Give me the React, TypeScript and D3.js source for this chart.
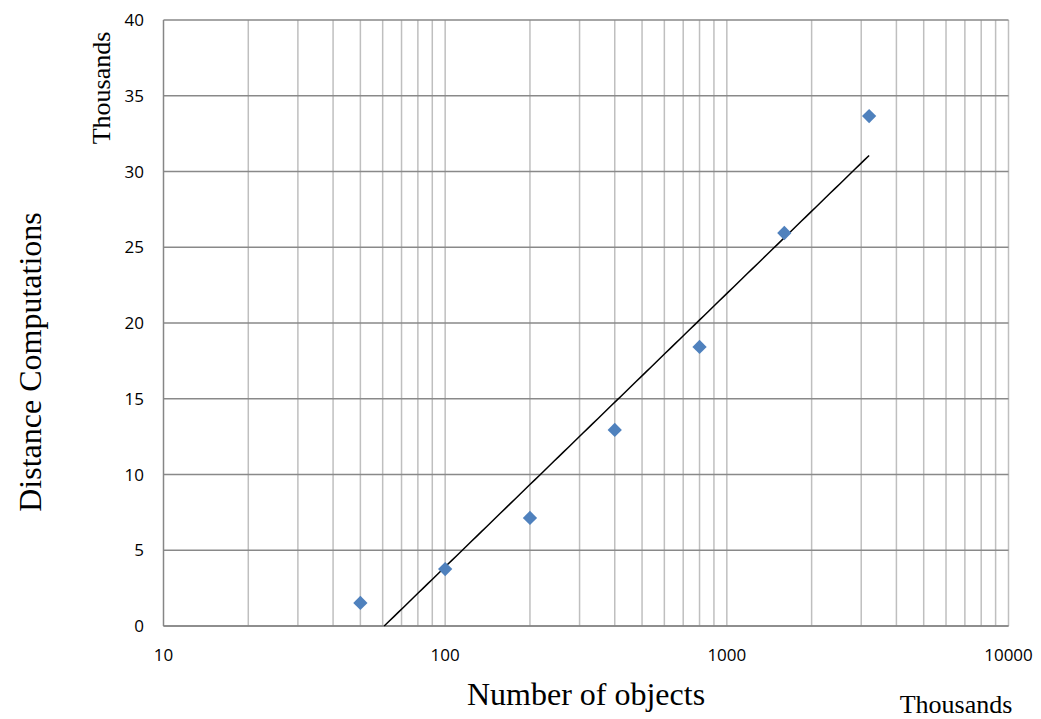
import React from "react";
import * as d3 from "d3";

const objectsK = [50, 100, 200, 400, 800, 1600, 3200];
const distanceK = [1.52, 3.76, 7.13, 12.94, 18.42, 25.94, 33.66];
const yTicks = [0, 5, 10, 15, 20, 25, 30, 35, 40];
const xTicks = [10, 100, 1000, 10000];

const W = 1041, H = 719;
const left = 163.5, right = 1008.5, top = 20, bottom = 626;

export default function App() {
  const x = d3.scaleLog().domain([10, 10000]).range([left, right]);
  const y = d3.scaleLinear().domain([0, 40]).range([bottom, top]);

  // logarithmic trendline (least squares on ln x)
  const lx = objectsK.map(Math.log);
  const mx = d3.mean(lx)!;
  const my = d3.mean(distanceK)!;
  const slope = d3.sum(lx.map((v, i) => (v - mx) * (distanceK[i] - my))) / d3.sum(lx.map(v => (v - mx) ** 2));
  const icpt = my - slope * mx;
  const x0 = Math.max(objectsK[0], Math.exp(-icpt / slope));
  const x1 = objectsK[objectsK.length - 1];
  const trend = d3.range(0, 101).map(i => {
    const v = Math.exp(Math.log(x0) + (Math.log(x1) - Math.log(x0)) * i / 100);
    return [x(v), y(slope * Math.log(v) + icpt)] as [number, number];
  });
  const line = d3.line();

  const minor: number[] = [];
  [10, 100, 1000].forEach(d => { for (let k = 2; k <= 10; k++) minor.push(d * k); });

  const diamond = d3.symbol().type(d3.symbolDiamond2).size(130)();
  const tickFont = "'Open Sans', 'Liberation Sans', sans-serif";
  const serif = "'Liberation Serif', serif";

  return (
    <svg width={W} height={H} style={{ position: "absolute", left: 0, top: 0 }}>
      <rect width={W} height={H} fill="#fff" />
      {minor.map(v => (
        <line key={v} x1={x(v)} x2={x(v)} y1={top} y2={bottom} stroke="#bfbfbf" strokeWidth={1.5} />
      ))}
      {yTicks.map(t => (
        <line key={t} x1={left} x2={right} y1={y(t)} y2={y(t)} stroke="#898989" strokeWidth={1.5} />
      ))}
      <line x1={left} x2={left} y1={top} y2={bottom} stroke="#868686" strokeWidth={1.5} />
      <line x1={left} x2={right} y1={bottom} y2={bottom} stroke="#868686" strokeWidth={1.5} />
      {yTicks.map(t => (
        <text key={t} x={144} y={y(t) + 6} textAnchor="end" fontFamily={tickFont} fontSize={17} fill="#000">{t}</text>
      ))}
      {xTicks.map(t => (
        <text key={t} x={x(t)} y={661} textAnchor="middle" fontFamily={tickFont} fontSize={17} fill="#000">{t}</text>
      ))}
      <path d={line(trend)!} fill="none" stroke="#000" strokeWidth={1.5} />
      {objectsK.map((v, i) => (
        <path key={v} d={diamond!} transform={`translate(${x(v)},${y(distanceK[i])})`} fill="#4f81bd" />
      ))}
      <text transform="translate(110,88) rotate(-90)" textAnchor="middle" fontFamily={serif} fontSize={26} fill="#000">Thousands</text>
      <text transform="translate(41,362) rotate(-90)" textAnchor="middle" fontFamily={serif} fontSize={32} fill="#000">Distance Computations</text>
      <text x={586} y={705} textAnchor="middle" fontFamily={serif} fontSize={32} fill="#000">Number of objects</text>
      <text x={956} y={713} textAnchor="middle" fontFamily={serif} fontSize={26} fill="#000">Thousands</text>
    </svg>
  );
}
